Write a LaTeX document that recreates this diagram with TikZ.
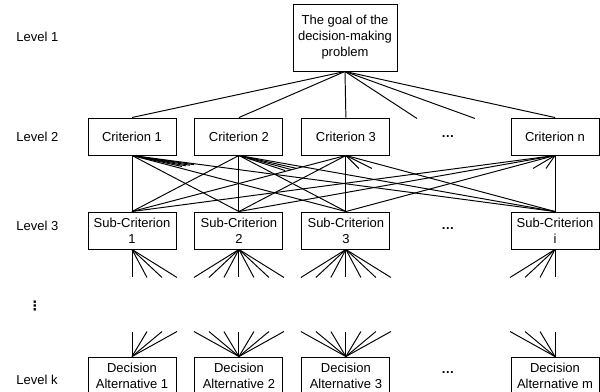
\documentclass[tikz,border=0pt]{standalone}
\usepackage{fontspec}
\setmainfont{Liberation Sans}
\newfontfamily\dotsfont{DejaVu Sans}
\usepackage{tikz}
\usetikzlibrary{positioning,calc}

\begin{document}
\begin{tikzpicture}[
  x=0.02cm, y=-0.02cm,
  node distance=0.36cm,
  font=\fontsize{7.4}{9.1}\selectfont,
  box/.style={draw, line width=0.55pt, minimum width=1.76cm, minimum height=0.74cm, inner sep=0pt, align=center},
  lvl/.style={anchor=west, inner sep=0pt},
  link/.style={line width=0.55pt}
]
\useasboundingbox (0,0) rectangle (600,392);

% levels
\node[lvl] (l1) at (16,37) {Level 1};
\node[lvl] (l2) at (16,137) {Level 2};
\node[lvl] (l3) at (16,226) {Level 3};
\node[lvl] (lk) at (16,380) {Level k};
\node (vdots) at (35,306) {\dotsfont\bfseries ⋮};

% goal
\node[box, minimum width=2.08cm, minimum height=1.34cm] (goal) at (345,37.5) {The goal of the\\decision-making\\problem};

% criteria
\node[box] (c1) at (132,136.5) {Criterion 1};
\node[box, right=of c1] (c2) {Criterion 2};
\node[box, right=of c2] (c3) {Criterion 3};
\node (cdots) at (448,137) {\bfseries …};
\node[box] (cn) at (555,136.5) {Criterion n};

% sub-criteria
\node[box] (s1) at (132,230.5) {Sub-Criterion\\1};
\node[box, right=of s1] (s2) {Sub-Criterion\\2};
\node[box, right=of s2] (s3) {Sub-Criterion\\3};
\node (sdots) at (448,229) {\bfseries …};
\node[box] (si) at (555,230.5) {Sub-Criterion\\i};

% alternatives
\node[box, minimum height=0.76cm] (d1) at (132,376) {Decision\\Alternative 1};
\node[box, minimum height=0.76cm, right=of d1] (d2) {Decision\\Alternative 2};
\node[box, minimum height=0.76cm, right=of d2] (d3) {Decision\\Alternative 3};
\node (ddots) at (448,373) {\bfseries …};
\node[box, minimum height=0.76cm] (dm) at (555,376) {Decision\\Alternative m};

% goal -> criteria
\foreach \n in {c1,c2,c3,cn}
  \draw[link] (goal.south) -- (\n.north);
\draw[link] (goal.south) -- ++(72,47);
\draw[link] (goal.south) -- ++(130,47);

% criteria -> sub-criteria
\foreach \a in {c1,c2,c3,cn}
  \foreach \b in {s1,s2,s3,si}
    \draw[link] (\a.south) -- (\b.north);
\foreach \dx/\dy in {50/11,54/10.4,58/9.8,62/9.2}
  \draw[link] (c1.south) -- ++(\dx,\dy);
\foreach \dx/\dy in {46/15,52/14,58/13}
  \draw[link] (c2.south) -- ++(\dx,\dy);
\foreach \dx in {13,26}
  \draw[link] (c3.south) -- ++(\dx,13);
\foreach \dx in {-22,-9}
  \draw[link] (cn.south) -- ++(\dx,13);

% sub-criteria fans
\foreach \dx in {0,15,30,45}
  \draw[link] (s1.south) -- ++(\dx,28);
\foreach \n in {s2,s3}
  \foreach \dx in {-45,-30,-15,0,15,30,45}
    \draw[link] (\n.south) -- ++(\dx,28);
\foreach \dx in {-45,-30,-15,0}
  \draw[link] (si.south) -- ++(\dx,28);

% alternative fans
\foreach \dx in {0,15,30,45}
  \draw[link] (d1.north) -- ++(\dx,-25);
\foreach \n in {d2,d3}
  \foreach \dx in {-45,-30,-15,0,15,30,45}
    \draw[link] (\n.north) -- ++(\dx,-25);
\foreach \dx in {-45,-30,-15,0}
  \draw[link] (dm.north) -- ++(\dx,-25);
\end{tikzpicture}
\end{document}
